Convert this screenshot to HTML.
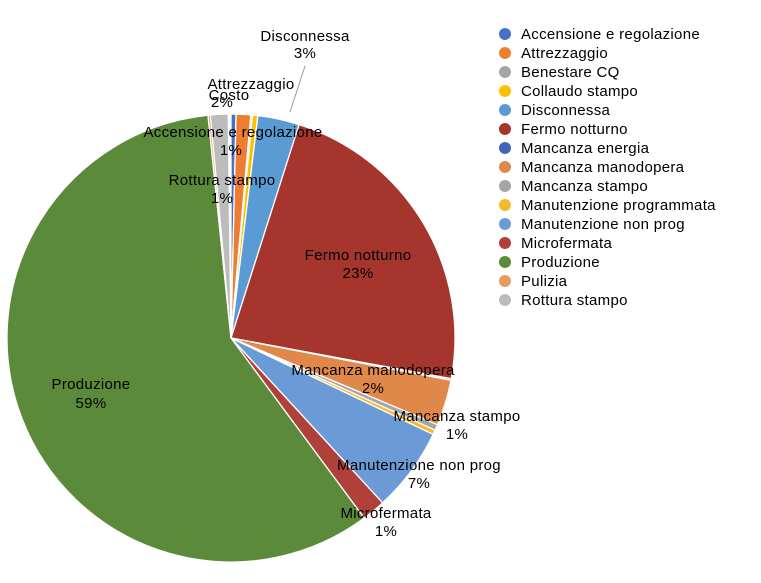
<!DOCTYPE html>
<html><head><meta charset="utf-8"><style>
body{margin:0;background:#fff;}
svg text{font-family:"Liberation Sans",sans-serif;font-size:15px;letter-spacing:0.3px;fill:#000;}
</style></head><body>
<svg id="s" width="761" height="578" viewBox="0 0 761 578" xmlns="http://www.w3.org/2000/svg">
<g id="pie"></g>
<line x1="305" y1="66" x2="290" y2="112" stroke="#999" stroke-width="1"/>
<g text-anchor="middle">
<text x="305" y="41">Disconnessa</text><text x="305" y="58">3%</text>
<text x="251" y="89">Attrezzaggio</text><text x="222" y="107">2%</text>
<text x="229" y="100">Costo</text>
<text x="233" y="137">Accensione e regolazione</text><text x="231" y="155">1%</text>
<text x="222" y="185">Rottura stampo</text><text x="222" y="203">1%</text>
<text x="358" y="260">Fermo notturno</text><text x="358" y="278">23%</text>
<text x="373" y="375">Mancanza manodopera</text><text x="373" y="393">2%</text>
<text x="457" y="421">Mancanza stampo</text><text x="457" y="439">1%</text>
<text x="419" y="470">Manutenzione non prog</text><text x="419" y="488">7%</text>
<text x="386" y="518">Microfermata</text><text x="386" y="536">1%</text>
<text x="91" y="389">Produzione</text><text x="91" y="408">59%</text>
</g>
<g id="leg"></g>
</svg>
<script>
var cx=231,cy=338,r=224;
var sl=[[0,1.3,"#4472C4"],[1.3,5.1,"#ED7D31"],[5.1,5.5,"#A5A5A5"],[5.5,6.9,"#FFC000"],[6.9,17.7,"#5B9BD5"],[17.7,100.5,"#A5352D"],[100.5,100.9,"#3F67B5"],[100.9,112.8,"#E0884A"],[112.8,114.3,"#A5A5A5"],[114.3,115.5,"#F5BA2C"],[115.5,137.4,"#6B9BD6"],[137.4,143.5,"#B0403A"],[143.5,354.1,"#5A8A3A"],[354.1,354.7,"#E8995E"],[354.7,359.3,"#BCBCBC"]];
function pt(a){a=a*Math.PI/180;return [cx+r*Math.sin(a),cy-r*Math.cos(a)];}
var h="";
sl.forEach(function(s){var p=pt(s[0]),q=pt(s[1]);var lg=(s[1]-s[0])>180?1:0;
h+='<path d="M'+cx+','+cy+' L'+p[0].toFixed(2)+','+p[1].toFixed(2)+' A'+r+','+r+' 0 '+lg+' 1 '+q[0].toFixed(2)+','+q[1].toFixed(2)+' Z" fill="'+s[2]+'" stroke="#fff" stroke-width="1.3"/>';});
document.getElementById("pie").innerHTML=h;
var names=["Accensione e regolazione","Attrezzaggio","Benestare CQ","Collaudo stampo","Disconnessa","Fermo notturno","Mancanza energia","Mancanza manodopera","Mancanza stampo","Manutenzione programmata","Manutenzione non prog","Microfermata","Produzione","Pulizia","Rottura stampo"];
var cols=["#4472C4","#ED7D31","#A5A5A5","#FFC000","#5B9BD5","#A5352D","#3F67B5","#E0884A","#A5A5A5","#F5BA2C","#6B9BD6","#B0403A","#5A8A3A","#E8995E","#BCBCBC"];
var l="";
names.forEach(function(n,i){var y=34+i*19;l+='<circle cx="505" cy="'+y+'" r="6" fill="'+cols[i]+'"/><text x="521" y="'+(y+5)+'">'+n+'</text>';});
document.getElementById("leg").innerHTML=l;
</script>
</body></html>
